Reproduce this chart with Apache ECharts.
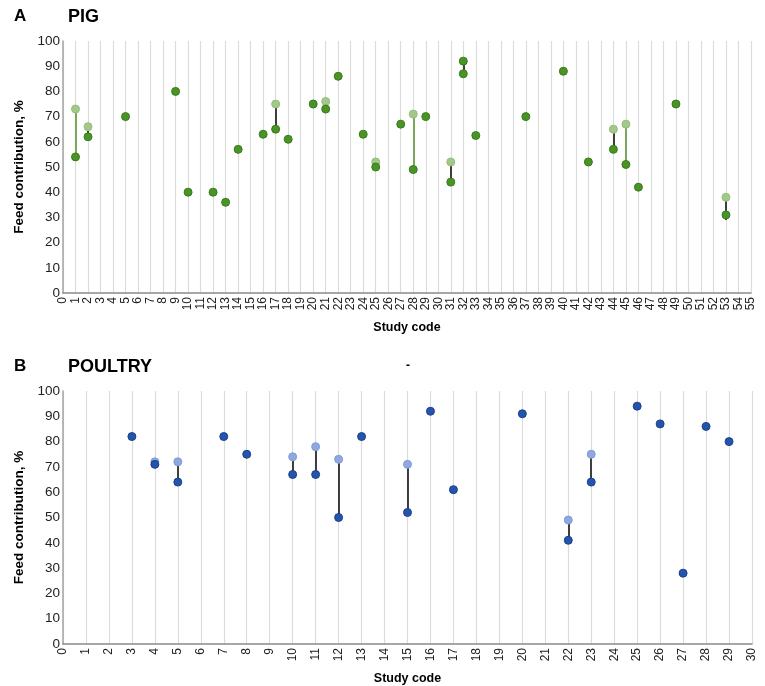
<!DOCTYPE html>
<html lang="en">
<head>
    <meta charset="UTF-8">
    <title>Feed contribution</title>
    <script src="https://cdn.jsdelivr.net/npm/echarts@6/dist/echarts.min.js"></script>
    <style>
        html, body { margin: 0; padding: 0; background: #fff; }
        #main { width: 765px; height: 686px; }
    </style>
</head>
<body>
    <div id="main"></div>
    <script>
        // PIG panel: [study code, feed contribution %]
        var pigDark = [[1, 54], [2, 62], [5, 70], [9, 80], [10, 40], [12, 40], [13, 36], [14, 57],
            [16, 63], [17, 65], [18, 61], [20, 75], [21, 73], [22, 86], [24, 63], [25, 50],
            [27, 67], [28, 49], [29, 70], [31, 44], [32, 92], [32, 87], [33, 62.5], [37, 70],
            [40, 88], [42, 52], [44, 57], [45, 51], [46, 42], [49, 75], [53, 31]];
        var pigLight = [[1, 73], [2, 66], [17, 75], [21, 76], [25, 52], [28, 71], [31, 52],
            [44, 65], [45, 67], [53, 38]];
        // ranges: [study code, from, to]
        var pigGreenRanges = [[1, 73, 54], [28, 71, 49], [45, 67, 51]];
        var pigBlackRanges = [[2, 66, 62], [17, 75, 65], [21, 76, 73], [31, 52, 44], [32, 92, 87],
            [44, 65, 57], [53, 38, 29]];

        // POULTRY panel
        var poultryDark = [[3, 82], [4, 71], [5, 64], [7, 82], [8, 75], [10, 67], [11, 67], [12, 50],
            [13, 82], [15, 52], [16, 92], [17, 61], [20, 91], [22, 41], [23, 64], [25, 94],
            [26, 87], [27, 28], [28, 86], [29, 80]];
        var poultryLight = [[4, 72], [5, 72], [10, 74], [11, 78], [12, 73], [15, 71], [22, 49], [23, 75]];
        var poultryBlackRanges = [[5, 72, 64], [10, 74, 67], [11, 78, 67], [12, 73, 50], [15, 71, 52],
            [22, 49, 41], [23, 75, 64]];

        var pigMaxCode = 55;
        var poultryMaxCode = 30;

        var font = 'Liberation Sans, Arial, sans-serif';

        function toSegments(ranges) {
            return ranges.map(function (r) {
                return { coords: [[r[0], r[1]], [r[0], r[2]]] };
            });
        }

        function xAxisFor(gridIndex, max) {
            return {
                type: 'value', gridIndex: gridIndex, min: 0, max: max, interval: 1,
                name: 'Study code', nameLocation: 'middle', nameGap: 28,
                nameTextStyle: { fontFamily: font, fontWeight: 'bold', fontSize: 12.5, color: '#000' },
                axisLine: { show: true, onZero: false, lineStyle: { color: '#8a8a8a', width: 1.5 } },
                axisTick: { show: false },
                axisLabel: { rotate: 90, margin: 4, fontFamily: font, fontSize: 12, color: '#222',
                    showMinLabel: true, showMaxLabel: true, hideOverlap: false },
                splitLine: { show: true, lineStyle: { color: '#dcdcdc', width: 1.2 } }
            };
        }

        function yAxisFor(gridIndex) {
            return {
                type: 'value', gridIndex: gridIndex, min: 0, max: 100, interval: 10,
                name: 'Feed contribution, %', nameLocation: 'middle', nameGap: 34,
                nameTextStyle: { fontFamily: font, fontWeight: 'bold', fontSize: 13.5, color: '#000' },
                axisLine: { show: true, lineStyle: { color: '#a6a6a6', width: 1.5 } },
                axisTick: { show: false },
                axisLabel: { margin: 3, fontFamily: font, fontSize: 13.5, color: '#222' },
                splitLine: { show: false }
            };
        }

        function dots(data, idx, fill, border, z) {
            return {
                type: 'scatter', xAxisIndex: idx, yAxisIndex: idx, data: data,
                symbolSize: 8, z: z,
                itemStyle: { color: fill, borderColor: border, borderWidth: 1, opacity: 1 }
            };
        }

        function ranges(data, idx, color) {
            return {
                type: 'lines', coordinateSystem: 'cartesian2d', xAxisIndex: idx, yAxisIndex: idx,
                data: toSegments(data), z: 2, silent: true,
                lineStyle: { color: color, width: 1.8, opacity: 1 }
            };
        }

        var myChart = echarts.init(document.getElementById('main'));
        var option = {
            animation: false,
            title: [
                { text: 'A', left: 9, top: 3, textStyle: { fontFamily: font, fontWeight: 'bold', fontSize: 17, color: '#000' } },
                { text: 'PIG', left: 63, top: 3, textStyle: { fontFamily: font, fontWeight: 'bold', fontSize: 18, color: '#000' } },
                { text: 'B', left: 9, top: 353, textStyle: { fontFamily: font, fontWeight: 'bold', fontSize: 17, color: '#000' } },
                { text: 'POULTRY', left: 63, top: 353, textStyle: { fontFamily: font, fontWeight: 'bold', fontSize: 18, color: '#000' } },
                { text: '-', left: 401, top: 355, textStyle: { fontFamily: font, fontSize: 12, color: '#000' } }
            ],
            grid: [
                { left: 63, top: 41, width: 688, height: 252 },
                { left: 63, top: 391, width: 689, height: 253 }
            ],
            xAxis: [xAxisFor(0, pigMaxCode), xAxisFor(1, poultryMaxCode)],
            yAxis: [yAxisFor(0), yAxisFor(1)],
            series: [
                ranges(pigGreenRanges, 0, '#6fa04b'),
                ranges(pigBlackRanges, 0, '#2b2b2b'),
                dots(pigLight, 0, '#a3c98a', '#93bd78', 3),
                dots(pigDark, 0, '#4a9426', '#3a7a1e', 4),
                ranges(poultryBlackRanges, 1, '#2b2b2b'),
                dots(poultryLight, 1, '#8fa9e0', '#7e9bd8', 3),
                dots(poultryDark, 1, '#2454ab', '#1b418c', 4)
            ]
        };
        myChart.setOption(option);
    </script>
</body>
</html>
